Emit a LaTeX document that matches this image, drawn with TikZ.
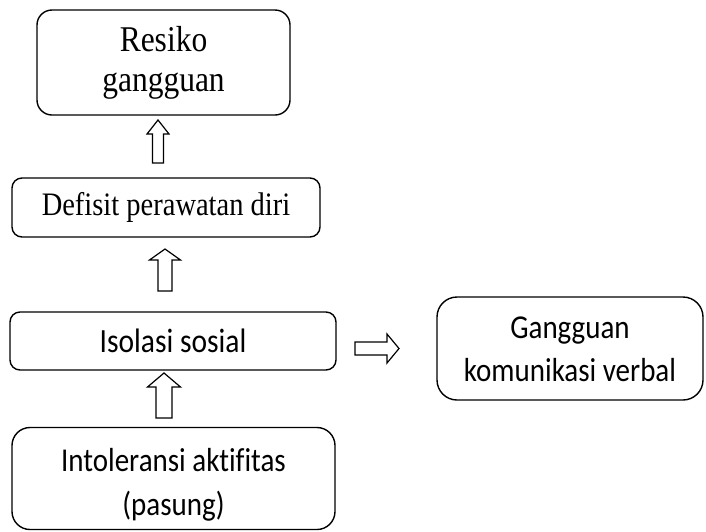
\documentclass[tikz,border=0pt]{standalone}
\usepackage{fontspec}
\newfontfamily\serifface[Ligatures=NoCommon]{Liberation Serif}
\newfontfamily\sansface[Ligatures=NoCommon]{Carlito}
\begin{document}
\begin{tikzpicture}[x=1pt,y=1pt,
  box/.style={draw=black, line width=1.4pt, inner sep=0pt},
  txt/.style={inner sep=0pt, align=center, text=black, yscale=1.15, transform shape},
  blk/.style={draw=black, line width=1.2pt, fill=white, line join=miter}]
\useasboundingbox (0,0) rectangle (706,-531);
\node[box, rounded corners=15pt, minimum width=253pt, minimum height=105pt] (b1) at (163.5,-62.5) {};
\node[box, rounded corners=10pt, minimum width=308pt, minimum height=59pt] (b2) at (166,-207.5) {};
\node[box, rounded corners=10pt, minimum width=326pt, minimum height=58pt] (b3) at (173,-341) {};
\node[box, rounded corners=20pt, minimum width=266pt, minimum height=103pt] (b4) at (570,-348.5) {};
\node[box, rounded corners=18pt, minimum width=323pt, minimum height=102pt] (b5) at (173.5,-478.5) {};
\node[txt, font=\serifface\fontsize{31.5}{35}\selectfont] (t1) at (b1) {Resiko\\gangguan};
\node[txt, font=\serifface\fontsize{28.5}{30}\selectfont] (t2) at (b2) {Defisit perawatan diri};
\node[txt, font=\sansface\fontsize{29.5}{35}\selectfont] (t3) at (b3) {Isolasi sosial};
\node[txt, font=\sansface\fontsize{29}{37.5}\selectfont] (t4) at ([yshift=-1pt]b4.center) {Gangguan\\komunikasi verbal};
\node[txt, font=\sansface\fontsize{29}{38}\selectfont] (t5) at ([yshift=-6pt]b5.center) {Intoleransi aktifitas\\(pasung)};
% block arrows
\coordinate (a1) at (158,-163);
\draw[blk, shift={(a1)}] (-5.5,0) -- (-5.5,29) -- (-11,29) -- (0,43) -- (11,29) -- (5.5,29) -- (5.5,0) -- cycle;
\coordinate (a2) at (165,-291);
\draw[blk, shift={(a2)}] (-7,0) -- (-7,31) -- (-15.5,31) -- (0,42) -- (15.5,31) -- (7,31) -- (7,0) -- cycle;
\coordinate (a3) at (164,-418);
\draw[blk, shift={(a3)}] (-8,0) -- (-8,31) -- (-16.5,31) -- (0,45) -- (16.5,31) -- (8,31) -- (8,0) -- cycle;
\coordinate (a4) at (355,-348.5);
\draw[blk, shift={(a4)}] (0,6.5) -- (32,6.5) -- (32,14.5) -- (44,0) -- (32,-14.5) -- (32,-6.5) -- (0,-6.5) -- cycle;
\end{tikzpicture}
\end{document}
